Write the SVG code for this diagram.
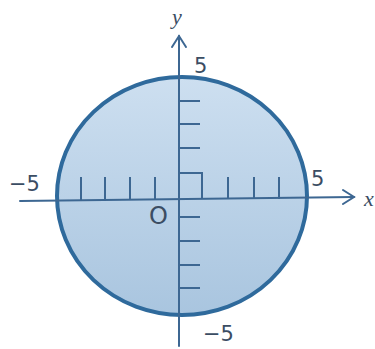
<svg xmlns="http://www.w3.org/2000/svg" width="375" height="349" viewBox="0 0 375 349">
<defs>
<linearGradient id="fillg" x1="0" y1="0" x2="0" y2="1">
<stop offset="0" stop-color="#cddff0"/>
<stop offset="1" stop-color="#a9c5df"/>
</linearGradient>
<style>
.ax{stroke:#3d6792;stroke-width:2;fill:none;stroke-linecap:round}
.tk{stroke:#3d6792;stroke-width:2;fill:none}
.lb{font-family:"DejaVu Sans","Liberation Sans",sans-serif;fill:#3b4d63;font-size:21px;font-weight:500}
.big{font-size:24px}
.it{font-family:"Liberation Serif",serif;font-style:italic;fill:#3b4d63;font-size:22px}
</style>
</defs>
<rect width="375" height="349" fill="#ffffff"/>
<g id="disk">
<ellipse cx="182" cy="196" rx="125" ry="119" fill="url(#fillg)" stroke="#2f6a9c" stroke-width="4"/>
</g>
<g id="connectors">
<line class="ax" x1="20" y1="201" x2="354" y2="197"/>
<polyline class="ax" points="343,190 354,197 343,204"/>
<line class="ax" x1="179" y1="346" x2="179" y2="36"/>
<polyline class="ax" points="172,47 179,36 186,47"/>
</g>
<g id="ticks">
<path class="tk" d="M81,177V200M105,177V200M130,177V200M155,177V200M179,173H202V199M228,177V199M254,177V199M279,177V199"/>
<path class="tk" d="M179,101H200M179,124H200M179,148H200M179,217H200M179,241H200M179,265H200M179,288H200"/>
</g>
<g id="labels">
<text class="it" x="172" y="24">y</text>
<text class="lb" x="194" y="73">5</text>
<text class="lb" x="9" y="191">−5</text>
<text class="lb" x="311" y="186">5</text>
<text class="it" x="364" y="206">x</text>
<text class="lb big" x="149" y="224">O</text>
<text class="lb" x="203" y="341">−5</text>
</g>
</svg>
